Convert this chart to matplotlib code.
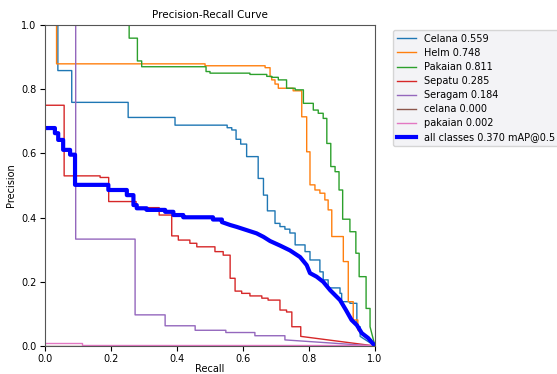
import matplotlib
matplotlib.use("Agg")
import matplotlib.pyplot as plt

# Step breakpoints: at recall r the precision becomes p
celana_r = [0.0, 0.039, 0.081, 0.252, 0.394, 0.552, 0.566, 0.579, 0.593, 0.611, 0.646, 0.662, 0.674,
            0.697, 0.712, 0.727, 0.742, 0.758, 0.788, 0.803, 0.833, 0.843, 0.858, 0.894, 0.899, 0.924,
            0.945, 0.955]
celana_p = [1.0, 0.858, 0.759, 0.712, 0.688, 0.680, 0.673, 0.644, 0.629, 0.590, 0.522, 0.470, 0.421,
            0.382, 0.372, 0.364, 0.352, 0.315, 0.294, 0.268, 0.231, 0.206, 0.181, 0.164, 0.138, 0.133,
            0.060, 0.030]

helm_r = [0.0, 0.035, 0.485, 0.667, 0.682, 0.687, 0.697, 0.707, 0.752, 0.778, 0.793, 0.803, 0.818,
          0.833, 0.848, 0.858, 0.869, 0.904, 0.919, 0.934, 0.948]
helm_p = [1.0, 0.879, 0.873, 0.867, 0.839, 0.829, 0.816, 0.803, 0.795, 0.714, 0.605, 0.502, 0.486,
          0.476, 0.455, 0.424, 0.341, 0.263, 0.138, 0.081, 0.050]

pakaian_r = [0.0, 0.255, 0.280, 0.293, 0.488, 0.500, 0.621, 0.672, 0.687, 0.707, 0.732, 0.758, 0.783,
             0.813, 0.828, 0.843, 0.854, 0.866, 0.879, 0.891, 0.902, 0.924, 0.942, 0.952, 0.973, 0.985]
pakaian_p = [1.0, 0.959, 0.888, 0.870, 0.855, 0.850, 0.846, 0.840, 0.837, 0.829, 0.803, 0.798, 0.756,
             0.735, 0.725, 0.709, 0.631, 0.559, 0.543, 0.486, 0.395, 0.356, 0.289, 0.216, 0.117, 0.060]

sepatu_r = [0.0, 0.058, 0.167, 0.193, 0.276, 0.346, 0.384, 0.404, 0.439, 0.460, 0.515, 0.540, 0.561,
            0.576, 0.596, 0.621, 0.657, 0.676, 0.712, 0.732, 0.748, 0.775]
sepatu_p = [0.750, 0.530, 0.525, 0.450, 0.431, 0.408, 0.343, 0.330, 0.320, 0.309, 0.294, 0.283, 0.211,
            0.171, 0.164, 0.156, 0.149, 0.143, 0.112, 0.106, 0.060, 0.030]

seragam_r = [0.0, 0.093, 0.273, 0.364, 0.455, 0.548, 0.636, 0.727]
seragam_p = [1.0, 0.333, 0.097, 0.063, 0.049, 0.042, 0.032, 0.019]

celana2_r = [0.0, 0.999]
celana2_p = [0.0, 0.0]

pakaian2_r = [0.0, 0.111, 0.999]
pakaian2_p = [0.008, 0.002, 0.001]

all_r = [0.0, 0.030, 0.040, 0.055, 0.076, 0.091, 0.192, 0.248, 0.268, 0.278, 0.308, 0.364, 0.389,
         0.419, 0.509, 0.536]
all_p = [0.679, 0.663, 0.642, 0.611, 0.596, 0.502, 0.486, 0.470, 0.439, 0.429, 0.424, 0.418, 0.408,
         0.401, 0.394, 0.386]
all_tail_r = [0.561, 0.581, 0.611, 0.641, 0.662, 0.682, 0.712, 0.742, 0.773, 0.793, 0.803, 0.823,
              0.843, 0.864, 0.894, 0.912, 0.929, 0.945, 0.960, 0.979, 1.0]
all_tail_p = [0.377, 0.371, 0.361, 0.351, 0.340, 0.327, 0.313, 0.298, 0.277, 0.252, 0.227, 0.216,
              0.200, 0.174, 0.143, 0.112, 0.081, 0.065, 0.040, 0.025, 0.0]

labels = ["Celana 0.559", "Helm 0.748", "Pakaian 0.811", "Sepatu 0.285", "Seragam 0.184",
          "celana 0.000", "pakaian 0.002"]
all_label = "all classes 0.370 mAP@0.5"


def stair(r, p, tail_r, tail_p):
    xs, ys = [r[0]], [p[0]]
    for i in range(1, len(r)):
        xs += [r[i], r[i]]
        ys += [p[i - 1], p[i]]
    xs += list(tail_r)
    ys += list(tail_p)
    return xs, ys


fig = plt.figure(figsize=(5.57, 3.74), dpi=100)
ax = fig.add_axes([45 / 557, 1 - 346 / 374, 330 / 557, 321 / 374])

series = [(celana_r, celana_p), (helm_r, helm_p), (pakaian_r, pakaian_p), (sepatu_r, sepatu_p),
          (seragam_r, seragam_p), (celana2_r, celana2_p), (pakaian2_r, pakaian2_p)]
for i, ((r, p), lab) in enumerate(zip(series, labels)):
    if i < 5:
        xs, ys = stair(r, p, [1.0], [0.0])
    else:
        xs, ys = stair(r, p, [1.0], [p[-1]])
    ax.plot(xs, ys, linewidth=1, color=f"C{i}", label=lab)

xs, ys = stair(all_r, all_p, all_tail_r, all_tail_p)
ax.plot(xs, ys, linewidth=3, color="blue", label=all_label)

ax.set_xlim(0, 1)
ax.set_ylim(0, 1)
ax.set_xticks([0, 0.2, 0.4, 0.6, 0.8, 1.0])
ax.set_yticks([0, 0.2, 0.4, 0.6, 0.8, 1.0])
ax.tick_params(labelsize=7, pad=2.5)
ax.set_xlabel("Recall", fontsize=7, labelpad=0)
ax.set_ylabel("Precision", fontsize=7, labelpad=4)
ax.set_title("Precision-Recall Curve", fontsize=7.5, pad=5)
for s in ax.spines.values():
    s.set_color("#555555")
leg = ax.legend(bbox_to_anchor=(1.04, 1), loc="upper left", fontsize=7, frameon=True,
                labelspacing=0.42)
leg.get_frame().set_facecolor("#f0f0f4")

fig.savefig("out.png", dpi=100)
